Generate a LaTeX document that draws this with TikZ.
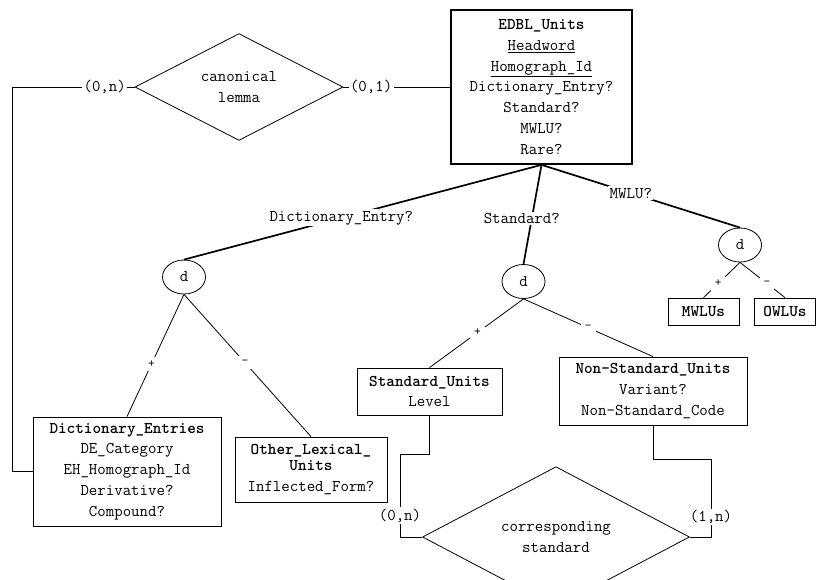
\documentclass[tikz,border=0pt]{standalone}
\usetikzlibrary{shapes.geometric}
\begin{document}
\begin{tikzpicture}[x=1pt,y=-1pt,
  every node/.style={font=\ttfamily\fontsize{16.4}{20.7}\selectfont, inner sep=0pt, align=center},
  ent/.style={draw, line width=0.8pt, rectangle},
  bigent/.style={draw, line width=1.7pt, rectangle},
  rel/.style={draw, line width=0.8pt, diamond},
  disj/.style={draw, line width=0.8pt, ellipse, minimum width=43pt, minimum height=34pt},
  thin/.style={line width=0.8pt},
  thick2/.style={line width=1.7pt},
  lbl/.style={fill=white, inner sep=1.5pt},
  sgn/.style={fill=white, inner sep=4pt, font=\ttfamily\fontsize{13}{14}\selectfont}
]
\useasboundingbox (0,0) rectangle (816,579);

% entities
\node[bigent, minimum width=181pt, minimum height=154pt] (edbl) at (541.5,87)
  {\textbf{EDBL\_Units}\\\underline{Headword}\\\underline{Homograph\_Id}\\Dictionary\_Entry?\\Standard?\\MWLU?\\Rare?};
\node[ent, minimum width=188pt, minimum height=109pt] (de) at (127,471.5)
  {\textbf{Dictionary\_Entries}\\DE\_Category\\EH\_Homograph\_Id\\Derivative?\\Compound?};
\node[ent, minimum width=152pt, minimum height=65pt] (ol) at (311,469.5)
  {\textbf{Other\_Lexical\_}\\[-4pt]\textbf{Units}\\Inflected\_Form?};
\node[ent, minimum width=145pt, minimum height=47pt] (su) at (429.5,391.5)
  {\textbf{Standard\_Units}\\Level};
\node[ent, minimum width=188pt, minimum height=68pt] (ns) at (653,391)
  {\textbf{Non-Standard\_Units}\\Variant?\\Non-Standard\_Code};
\node[ent, minimum width=71pt, minimum height=27pt] (mw) at (703.5,311.5) {\textbf{MWLUs}};
\node[ent, minimum width=61pt, minimum height=27pt] (ow) at (785,311.5) {\textbf{OWLUs}};

% relationships
\node[rel, minimum width=208pt, minimum height=85pt] (cl) at (239,87) {canonical\\lemma};
\node[rel, minimum width=267pt, minimum height=86pt] (cs) at (556,537) {corresponding\\standard};

% disjointness circles
\node[disj] (d1) at (184,277) {d};
\node[disj] (d2) at (523.5,281.5) {d};
\node[disj] (d3) at (740,245) {d};

% helper corners
\coordinate (lc) at (12,87);
\coordinate (sl) at (400,537);
\coordinate (sr) at (711,537);

% canonical lemma
\draw[thin] (de.west) -| (lc) -- (cl.west) node[lbl, pos=0.756] {(0,n)};
\draw[thin] (cl.east) -- (edbl.west) node[lbl, pos=0.26] {(0,1)};

% specialisations
\draw[thick2] (edbl.south) -- (d1.north) node[lbl, pos=0.56] {Dictionary\_Entry?};
\draw[thick2] (edbl.south) -- (d2.north) node[lbl, pos=0.54, xshift=-10pt] {Standard?};
\draw[thick2] (edbl.south) -- (d3.north) node[lbl, pos=0.45] {MWLU?};

\draw[thin] (d1.south) -- (de.north) node[sgn, pos=0.57] {+};
\draw[thin] (d1.south) -- (ol.north) node[sgn, pos=0.48] {-};
\draw[thin] (d2.south) -- (su.north) node[sgn, pos=0.49] {+};
\draw[thin] (d2.south) -- (ns.north) node[sgn, pos=0.5] {-};
\draw[thin] (d3.south) -- (mw.north) node[sgn, pos=0.6] {+};
\draw[thin] (d3.south) -- (ow.north) node[sgn, pos=0.6] {-};

% corresponding standard
\draw[thin] (su.south) -- ++(0,39) -| (sl) node[lbl, pos=0.87] {(0,n)} -- (cs.west);
\draw[thin] (ns.south) -- ++(0,34) -| (sr) node[lbl, pos=0.87] {(1,n)} -- (cs.east);
\end{tikzpicture}
\end{document}
